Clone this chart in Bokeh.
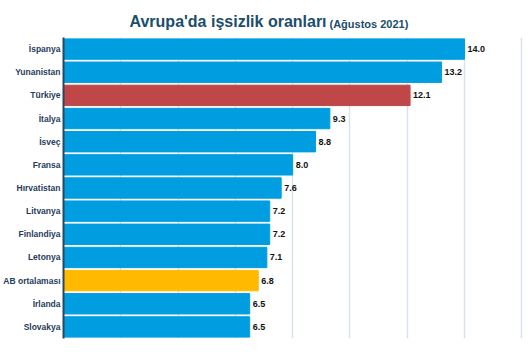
from bokeh.plotting import figure
from bokeh.models import ColumnDataSource, Range1d, FactorRange, SingleIntervalTicker, Label
from bokeh.embed import file_html
from bokeh.resources import INLINE
from bokeh.core.properties import value

countries = ["İspanya", "Yunanistan", "Türkiye", "İtalya", "İsveç", "Fransa", "Hırvatistan",
             "Litvanya", "Finlandiya", "Letonya", "AB ortalaması", "İrlanda", "Slovakya"]
rates = [14.0, 13.2, 12.1, 9.3, 8.8, 8.0, 7.6, 7.2, 7.2, 7.1, 6.8, 6.5, 6.5]
labels = ["14.0", "13.2", "12.1", "9.3", "8.8", "8.0", "7.6", "7.2", "7.2", "7.1", "6.8", "6.5", "6.5"]

BLUE = "#009ee0"
RED = "#bf4748"
ORANGE = "#ffba00"
colors = [RED if c == "Türkiye" else ORANGE if c == "AB ortalaması" else BLUE for c in countries]

src = ColumnDataSource(dict(c=countries, v=rates, lab=labels, col=colors))

p = figure(width=529, height=355, output_backend="svg", toolbar_location=None,
           y_range=FactorRange(*reversed(countries), range_padding=0.0),
           x_range=Range1d(0, 16.2),
           min_border_left=62, min_border_right=2, min_border_top=37, min_border_bottom=17)
p.outline_line_color = None
p.background_fill_color = "white"

p.hbar(y="c", right="v", left=0, height=0.88, fill_color="col", line_color="col", source=src)
p.text(x="v", y="c", text="lab", source=src, x_offset=3, text_baseline="middle",
       text_font=value("Liberation Sans"), text_font_style="bold",
       text_font_size="9px", text_color="#111111")

p.xaxis.visible = False
p.xaxis.ticker = SingleIntervalTicker(interval=2)
p.xgrid.grid_line_color = "#d8e2ec"
p.xgrid.grid_line_width = 1.5
p.ygrid.grid_line_color = None

ya = p.yaxis[0]
ya.axis_line_color = "#2b4760"
ya.axis_line_width = 2
ya.major_tick_line_color = None
ya.minor_tick_line_color = None
ya.major_tick_out = 0
ya.major_tick_in = 0
ya.major_label_standoff = 3
ya.major_label_text_font = "Liberation Sans"
ya.major_label_text_font_style = "bold"
ya.major_label_text_font_size = "8.5px"
ya.major_label_text_color = "#1f3d5c"

t1 = Label(x=66, y=8, x_units="screen", y_units="screen",
           text="Avrupa'da işsizlik oranları", text_font="Liberation Sans",
           text_font_style="bold", text_font_size="16px", text_color="#1c4d6b")
t2 = Label(x=266, y=-9, x_units="screen", y_units="screen",
           text="(Ağustos 2021)", text_font="Liberation Sans",
           text_font_style="bold", text_font_size="11px", text_color="#1c4d6b")
p.add_layout(t1, "above")
p.add_layout(t2, "above")

open("out.html", "w").write(file_html(p, INLINE))
